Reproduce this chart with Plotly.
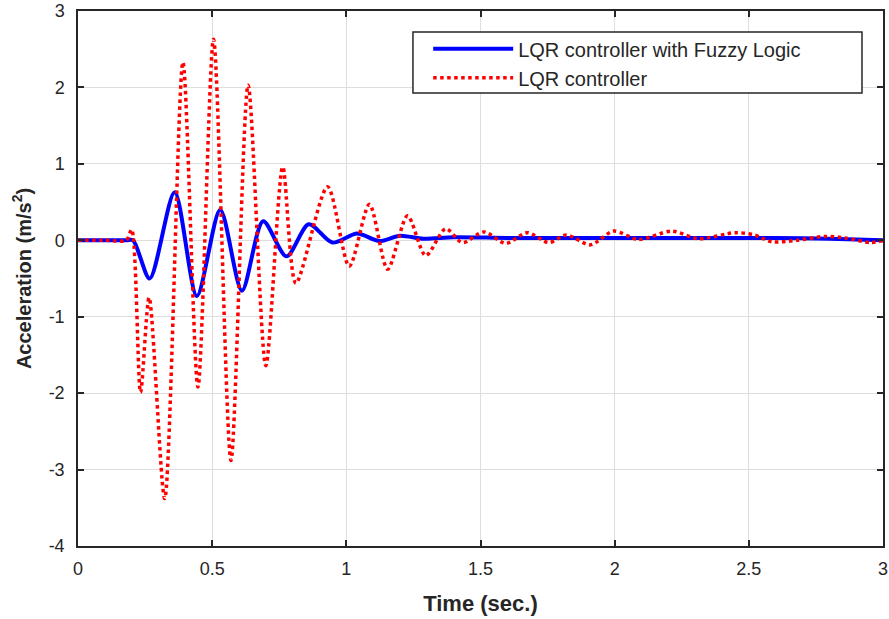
import plotly.graph_objects as go

# LQR controller (red dotted) - peaks/troughs
lqr_t = [0, 0.1, 0.18, 0.2, 0.233, 0.265, 0.323, 0.391, 0.447, 0.505, 0.57, 0.634, 0.70,
         0.763, 0.812, 0.93, 1.011, 1.086, 1.154, 1.228, 1.296, 1.37, 1.433, 1.513,
         1.594, 1.674, 1.755, 1.82, 1.91, 1.996, 2.089, 2.213, 2.312, 2.449, 2.52,
         2.585, 2.68, 2.783, 2.86, 2.956, 3.0]
lqr_a = [0, 0, 0, 0.14, -1.99, -0.75, -3.38, 2.33, -1.92, 2.63, -2.88, 2.03, -1.64,
         0.96, -0.56, 0.70, -0.34, 0.47, -0.38, 0.32, -0.20, 0.15, -0.03, 0.11,
         -0.04, 0.10, -0.03, 0.07, -0.06, 0.12, 0.01, 0.12, 0.02, 0.10, 0.07,
         -0.02, 0.0, 0.05, 0.03, -0.03, 0.0]

# LQR controller with Fuzzy Logic (blue solid)
fz_t = [0, 0.1, 0.18, 0.205, 0.267, 0.36, 0.443, 0.53, 0.611, 0.69, 0.777, 0.86, 0.948, 1.04,
        1.123, 1.2, 1.287, 1.4, 1.6, 1.8, 2.0, 2.2, 2.4, 2.6, 2.8, 3.0]
fz_a = [0, 0, 0, 0, -0.50, 0.63, -0.73, 0.40, -0.66, 0.25, -0.21, 0.21, -0.03, 0.09,
        -0.01, 0.06, 0.02, 0.04, 0.03, 0.03, 0.03, 0.03, 0.03, 0.03, 0.02, 0.0]

x_ticks = [0, 0.5, 1, 1.5, 2, 2.5, 3]
x_tick_labels = ["0", "0.5", "1", "1.5", "2", "2.5", "3"]
y_ticks = [-4, -3, -2, -1, 0, 1, 2, 3]
y_tick_labels = ["-4", "-3", "-2", "-1", "0", "1", "2", "3"]

FONT = "Liberation Sans, Arial, sans-serif"
DARK = "#262626"

fig = go.Figure()
fig.add_trace(go.Scatter(
    x=fz_t, y=fz_a, mode="lines", name="LQR controller with Fuzzy Logic",
    line=dict(color="#0000FF", width=4, shape="spline", smoothing=0.8)))
fig.add_trace(go.Scatter(
    x=lqr_t, y=lqr_a, mode="lines", name="LQR controller",
    line=dict(color="#FF0000", width=3.5, dash="dot", shape="spline", smoothing=0.8)))

axis_common = dict(
    showline=True, linecolor=DARK, linewidth=1.5, mirror="ticks",
    ticks="inside", ticklen=6, tickcolor=DARK, tickwidth=1.5,
    showgrid=True, gridcolor="#dedede", gridwidth=1, zeroline=False,
    tickfont=dict(family=FONT, size=18, color=DARK),
    automargin=False, ticklabeloverflow="allow",
)

fig.update_xaxes(range=[0, 3], tickvals=x_ticks, ticktext=x_tick_labels,
                 ticklabelstandoff=6,
                 title=dict(text="<b>Time (sec.)</b>", standoff=17,
                            font=dict(family=FONT, size=22, color=DARK)),
                 **axis_common)
fig.update_yaxes(range=[-4, 3], tickvals=y_ticks, ticktext=y_tick_labels,
                 ticklabelstandoff=8,
                 title=dict(text="<b>Acceleration (m/s<sup>2</sup>)</b>", standoff=12,
                            font=dict(family=FONT, size=20, color=DARK)),
                 **axis_common)

# legend box
fig.add_shape(type="rect", xref="paper", yref="paper",
              x0=0.4161, x1=0.9739, y0=0.8467, y1=0.9607,
              line=dict(color=DARK, width=1.5), fillcolor="white", layer="above")

fig.update_layout(
    width=889, height=619,
    margin=dict(l=78, r=6, t=11, b=73),
    paper_bgcolor="white", plot_bgcolor="white",
    showlegend=True,
    legend=dict(x=0.435, y=0.966, xanchor="left", yanchor="top",
                bgcolor="rgba(0,0,0,0)", borderwidth=0,
                font=dict(family=FONT, size=20, color=DARK),
                itemwidth=80, tracegroupgap=0),
)

fig.write_html("out.html",
               config={"displayModeBar": False},
               post_script="document.body.style.margin='0';document.body.style.padding='0';")
